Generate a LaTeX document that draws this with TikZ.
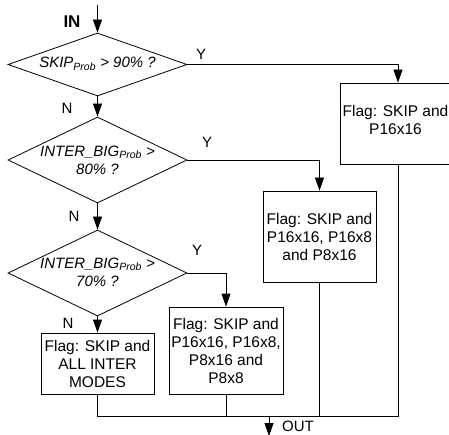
\documentclass[tikz,border=0pt]{standalone}
\usepackage{fontspec}
\setmainfont{Liberation Sans}
\usetikzlibrary{shapes.geometric,arrows.meta}
\tikzset{
  ln/.style={line width=0.8pt},
  arr/.style={ln,-{Triangle[length=13pt,width=9pt]}},
  dia/.style={draw,ln,diamond,inner sep=0pt,minimum width=179pt},
  dtext/.style={align=center,font=\fontsize{15}{18}\selectfont\itshape,inner sep=0pt},
  flag/.style={draw,ln,align=center,inner sep=0pt,font=\fontsize{15.5}{18}\selectfont},
  lbl/.style={font=\fontsize{15}{18}\selectfont,inner sep=0pt}
}
\begin{document}
\begin{tikzpicture}[x=1pt,y=-1pt]
\clip (0,0) rectangle (449,435);
% diamonds
\node[dia,minimum height=63pt] (d1) at (97.5,64.5) {};
\node[dtext] (t1) at (97.5,64) {SKIP\textsubscript{Prob} > 90\% ?};
\node[dia,minimum height=86pt] (d2) at (97.5,160) {};
\node[dtext] (t2) at (97.5,160) {INTER\_BIG\textsubscript{Prob} >\\80\% ?};
\node[dia,minimum height=86pt] (d3) at (97.5,273) {};
\node[dtext] (t3) at (97.5,272) {INTER\_BIG\textsubscript{Prob} >\\70\% ?};
% boxes
\node[flag,minimum width=116pt,minimum height=81pt] (b1) at (398,123.5) {};
\node[align=center,inner sep=0pt,font=\fontsize{15.5}{18}\selectfont] (b1t) at (395.5,120) {Flag: SKIP and\\P16x16};
\node[flag,minimum width=113pt,minimum height=91pt] (b2) at (319.5,236.5) {Flag: SKIP and\\P16x16, P16x8\\and P8x16};
\node[flag,minimum width=114pt,minimum height=87pt] (b3) at (226,350.5) {Flag: SKIP and\\P16x16, P16x8,\\P8x16 and\\P8x8};
\node[flag,minimum width=113pt,minimum height=61pt] (b4) at (97.5,363.5) {Flag: SKIP and\\ALL INTER\\MODES};
% coordinates
\coordinate (in) at (97.5,5);
\coordinate (j1) at (398,64.5);
\coordinate (j2) at (319.5,160);
\coordinate (j3) at (226,273);
\coordinate (bl) at (97.5,416);
\coordinate (br) at (398,416);
\coordinate (o1) at (269,416);
\coordinate (o2) at (269,436);
% connectors
\draw[arr] (in) -- (d1.north);
\draw[arr] (d1.south) -- (d2.north);
\draw[arr] (d2.south) -- (d3.north);
\draw[arr] (d3.south) -- (b4.north);
\draw[arr] (d1.east) -- (j1) -- (b1.north);
\draw[arr] (d2.east) -- (j2) -- (b2.north);
\draw[arr] (d3.east) -- (j3) -- (b3.north);
\draw[ln] (b4.south) -- (bl) -- (br) -- (b1.south);
\draw[ln] (b2.south) -- (b2.south |- bl);
\draw[ln] (b3.south) -- (b3.south |- bl);
\draw[arr] (o1) -- (o2);
% labels
\node[lbl,font=\fontsize{17}{20}\selectfont\bfseries] (lin) at (72,22) {IN};
\node[lbl] (y1) at (201,54) {Y};
\node[lbl] (n1) at (67,108) {N};
\node[lbl] (y2) at (207,142) {Y};
\node[lbl] (n2) at (74,216) {N};
\node[lbl] (y3) at (197,250) {Y};
\node[lbl] (n3) at (68,323) {N};
\node[lbl,anchor=west] (lout) at (282,426) {OUT};
\end{tikzpicture}
\end{document}
